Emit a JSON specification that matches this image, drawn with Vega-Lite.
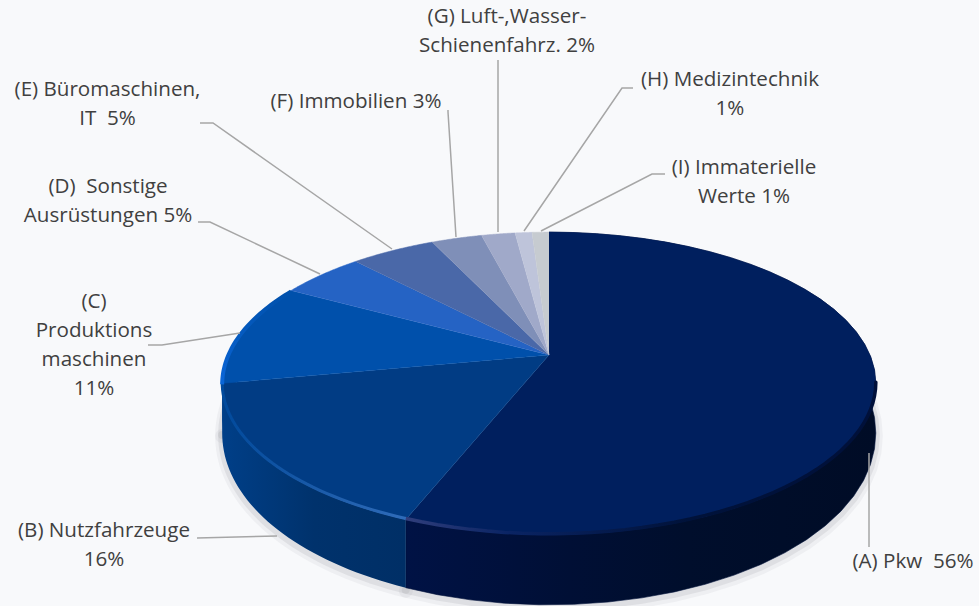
{"$schema":"https://vega.github.io/schema/vega-lite/v6.json","width":979,"height":606,"autosize":{"type":"none"},"padding":0,"background":"#f8f9fb","config":{"view":{"stroke":null}},
"data":{"values":[
{"key":"A","label":"(A) Pkw \u00a056%","share":56},
{"key":"B","label":"(B) Nutzfahrzeuge\n16%","share":16},
{"key":"C","label":"(C)\nProduktions\nmaschinen\n11%","share":11},
{"key":"D","label":"(D) \u00a0Sonstige\nAusrüstungen 5%","share":5},
{"key":"E","label":"(E) Büromaschinen,\nIT \u00a05%","share":5},
{"key":"F","label":"(F) Immobilien 3%","share":3},
{"key":"G","label":"(G) Luft-,Wasser-\nSchienenfahrz. 2%","share":2},
{"key":"H","label":"(H) Medizintechnik\n1%","share":1},
{"key":"I","label":"(I) Immaterielle\nWerte 1%","share":1}]},
"transform":[{"window":[{"op":"sum","field":"share","as":"cum"}],"sort":[{"field":"key","order":"ascending"}]},{"calculate":"datum.cum-datum.share","as":"start"}],
"encoding":{"x":{"field":"px","type":"quantitative","scale":{"domain":[-549,430],"nice":false,"zero":false},"axis":null},"y":{"field":"py","type":"quantitative","scale":{"domain":[251,-355],"nice":false,"zero":false},"axis":null}},
"layer":[
{"transform":[{"filter":"indexof(['A','B','C'],datum.key)>=0"},{"calculate":"sequence(0,41)","as":"i"},{"flatten":["i"]},{"calculate":"(datum.start+(datum.cum-datum.start)*datum.i/40)*PI/50","as":"t"},{"calculate":"321*sin(datum.t)/(1+0.188*cos(datum.t))","as":"px"},{"calculate":"-146*cos(datum.t)/(1+0.188*cos(datum.t))+45-25*cos(datum.t)+3","as":"py"}],
"mark":{"type":"line","stroke":"#8d9096","strokeWidth":14,"opacity":0.09,"strokeCap":"round"},"encoding":{"detail":{"field":"key"},"order":{"field":"i","type":"quantitative"}}},
{"transform":[{"filter":"indexof(['A','B','C'],datum.key)>=0"},{"calculate":"sequence(0,41)","as":"i"},{"flatten":["i"]},{"calculate":"(datum.start+(datum.cum-datum.start)*datum.i/40)*PI/50","as":"t"},{"calculate":"321*sin(datum.t)/(1+0.188*cos(datum.t))","as":"px"},{"calculate":"-146*cos(datum.t)/(1+0.188*cos(datum.t))+45-25*cos(datum.t)+2","as":"py"}],
"mark":{"type":"line","stroke":"#8d9096","strokeWidth":8,"opacity":0.16,"strokeCap":"round"},"encoding":{"detail":{"field":"key"},"order":{"field":"i","type":"quantitative"}}},
{"transform":[{"filter":"datum.key==='A'"},{"calculate":"sequence(0,82)","as":"j"},{"flatten":["j"]},{"calculate":"(datum.start+(datum.cum-datum.start)*(datum.j<=40?datum.j:81-datum.j)/40)*PI/50","as":"t"},{"calculate":"321*sin(datum.t)/(1+0.188*cos(datum.t))","as":"px"},{"calculate":"-146*cos(datum.t)/(1+0.188*cos(datum.t))+(datum.j>40?45-25*cos(datum.t):0)","as":"py"}],
"mark":{"type":"line","strokeWidth":0.6,"stroke":"#001039","fill":{"gradient":"linear","x1":0,"y1":0,"x2":1,"y2":0,"stops":[{"offset":0,"color":"#001245"},{"offset":0.35,"color":"#000f35"},{"offset":0.6,"color":"#000e2c"},{"offset":1,"color":"#000c26"}]}},"encoding":{"order":{"field":"j","type":"quantitative"}}},
{"transform":[{"filter":"datum.key==='C'"},{"calculate":"sequence(0,82)","as":"j"},{"flatten":["j"]},{"calculate":"(datum.start+(datum.cum-datum.start)*(datum.j<=40?datum.j:81-datum.j)/40)*PI/50","as":"t"},{"calculate":"321*sin(datum.t)/(1+0.188*cos(datum.t))","as":"px"},{"calculate":"-146*cos(datum.t)/(1+0.188*cos(datum.t))+(datum.j>40?45-25*cos(datum.t):0)","as":"py"}],
"mark":{"type":"line","strokeWidth":0,"fill":"#003f88"},"encoding":{"order":{"field":"j","type":"quantitative"}}},
{"transform":[{"filter":"datum.key==='B'"},{"calculate":"sequence(0,82)","as":"j"},{"flatten":["j"]},{"calculate":"(datum.start+(datum.cum-datum.start)*(datum.j<=40?datum.j:81-datum.j)/40)*PI/50","as":"t"},{"calculate":"321*sin(datum.t)/(1+0.188*cos(datum.t))","as":"px"},{"calculate":"-146*cos(datum.t)/(1+0.188*cos(datum.t))+(datum.j>40?45-25*cos(datum.t):0)","as":"py"}],
"mark":{"type":"line","strokeWidth":0,"fill":{"gradient":"linear","x1":0,"y1":0,"x2":1,"y2":0,"stops":[{"offset":0,"color":"#003f88"},{"offset":0.5,"color":"#00326c"},{"offset":1,"color":"#002f66"}]}},"encoding":{"order":{"field":"j","type":"quantitative"}}},
{"transform":[{"calculate":"sequence(-1,41)","as":"i"},{"flatten":["i"]},{"calculate":"(datum.start+(datum.cum-datum.start)*datum.i/40)*PI/50","as":"t"},{"calculate":"datum.i<0?0:321*sin(datum.t)/(1+0.188*cos(datum.t))","as":"px"},{"calculate":"datum.i<0?0:-146*cos(datum.t)/(1+0.188*cos(datum.t))","as":"py"}],
"mark":{"type":"line","strokeWidth":0.5},
"encoding":{"order":{"field":"i","type":"quantitative"},
"fill":{"field":"key","type":"nominal","legend":null,"scale":{"domain":["A","B","C","D","E","F","G","H","I"],"range":["#001f5e","#013c84","#0050ab","#2563c4","#4a68a8","#7f8fb8","#a0a9c9","#bec4da","#c6cbd0"]}},
"stroke":{"field":"key","type":"nominal","legend":null,"scale":{"domain":["A","B","C","D","E","F","G","H","I"],"range":["#001f5e","#013c84","#0050ab","#2563c4","#4a68a8","#7f8fb8","#a0a9c9","#bec4da","#c6cbd0"]}}}},
{"transform":[{"filter":"datum.key==='A'"},{"calculate":"sequence(0,41)","as":"i"},{"flatten":["i"]},{"calculate":"(28+(datum.cum-28)*datum.i/40)*PI/50","as":"t"},{"calculate":"321*sin(datum.t)/(1+0.188*cos(datum.t))","as":"px"},{"calculate":"-146*cos(datum.t)/(1+0.188*cos(datum.t))-1","as":"py"}],
"mark":{"type":"line","strokeWidth":3.5,"strokeCap":"round","stroke":{"gradient":"linear","x1":0,"y1":0,"x2":1,"y2":0,"stops":[{"offset":0,"color":"#303e7c"},{"offset":0.22,"color":"#0a2464"},{"offset":0.6,"color":"#00123a"},{"offset":1,"color":"#00103a"}]}},"encoding":{"order":{"field":"i","type":"quantitative"}}},
{"transform":[{"filter":"datum.key==='B'"},{"calculate":"sequence(0,41)","as":"i"},{"flatten":["i"]},{"calculate":"(datum.start+(datum.cum-datum.start)*datum.i/40)*PI/50","as":"t"},{"calculate":"321*sin(datum.t)/(1+0.188*cos(datum.t))","as":"px"},{"calculate":"-146*cos(datum.t)/(1+0.188*cos(datum.t))-1","as":"py"}],
"mark":{"type":"line","strokeWidth":3,"stroke":{"gradient":"linear","x1":0,"y1":0,"x2":1,"y2":0,"stops":[{"offset":0,"color":"#014a9c"},{"offset":0.5,"color":"#1a5aa8"},{"offset":1,"color":"#2f6cba"}]}},"encoding":{"order":{"field":"i","type":"quantitative"}}},
{"transform":[{"filter":"datum.key==='C'"},{"calculate":"sequence(0,41)","as":"i"},{"flatten":["i"]},{"calculate":"(datum.start+(datum.cum-datum.start)*datum.i/40)*PI/50","as":"t"},{"calculate":"321*sin(datum.t)/(1+0.188*cos(datum.t))","as":"px"},{"calculate":"-146*cos(datum.t)/(1+0.188*cos(datum.t))+1","as":"py"}],
"mark":{"type":"line","strokeWidth":4,"stroke":{"gradient":"linear","x1":0,"y1":1,"x2":0,"y2":0,"stops":[{"offset":0,"color":"#0a66d8"},{"offset":1,"color":"#0050ab"}]}},"encoding":{"order":{"field":"i","type":"quantitative"}}},
{"transform":[{"calculate":"{'A':[[320,98],[320,192]],'B':[[-352,183],[-272,181]],'C':[[-401,-10],[-387,-10],[-309,-22]],'D':[[-351,-133],[-339,-133],[-229,-81]],'E':[[-349,-232],[-336,-232],[-157,-106]],'F':[[-101,-245],[-101,-243],[-93,-118]],'G':[[-51,-295],[-51,-123]],'H':[[84,-267],[73,-267],[-25,-124]],'I':[[116,-181],[103,-181],[-8,-124]]}[datum.key]","as":"lead"},{"calculate":"sequence(0,length(datum.lead))","as":"j"},{"flatten":["j"]},{"calculate":"datum.lead[datum.j][0]","as":"px"},{"calculate":"datum.lead[datum.j][1]","as":"py"}],
"mark":{"type":"line","stroke":"#a6a6a6","strokeWidth":1.5},"encoding":{"detail":{"field":"key"},"order":{"field":"j","type":"quantitative"}}},
{"transform":[{"calculate":"{'A':[364,207],'B':[-445,176],'C':[-455,-53],'D':[-441,-168],'E':[-441.5,-265],'F':[-193,-253],'G':[-42,-338],'H':[181,-275],'I':[195,-187]}[datum.key]","as":"pos"},{"calculate":"datum.pos[0]","as":"px"},{"calculate":"datum.pos[1]","as":"py"}],
"mark":{"type":"text","font":"Open Sans","fontSize":20.6,"color":"#404040","align":"center","baseline":"middle","lineBreak":"\n","lineHeight":29},"encoding":{"text":{"field":"label","type":"nominal"}}}
]}
